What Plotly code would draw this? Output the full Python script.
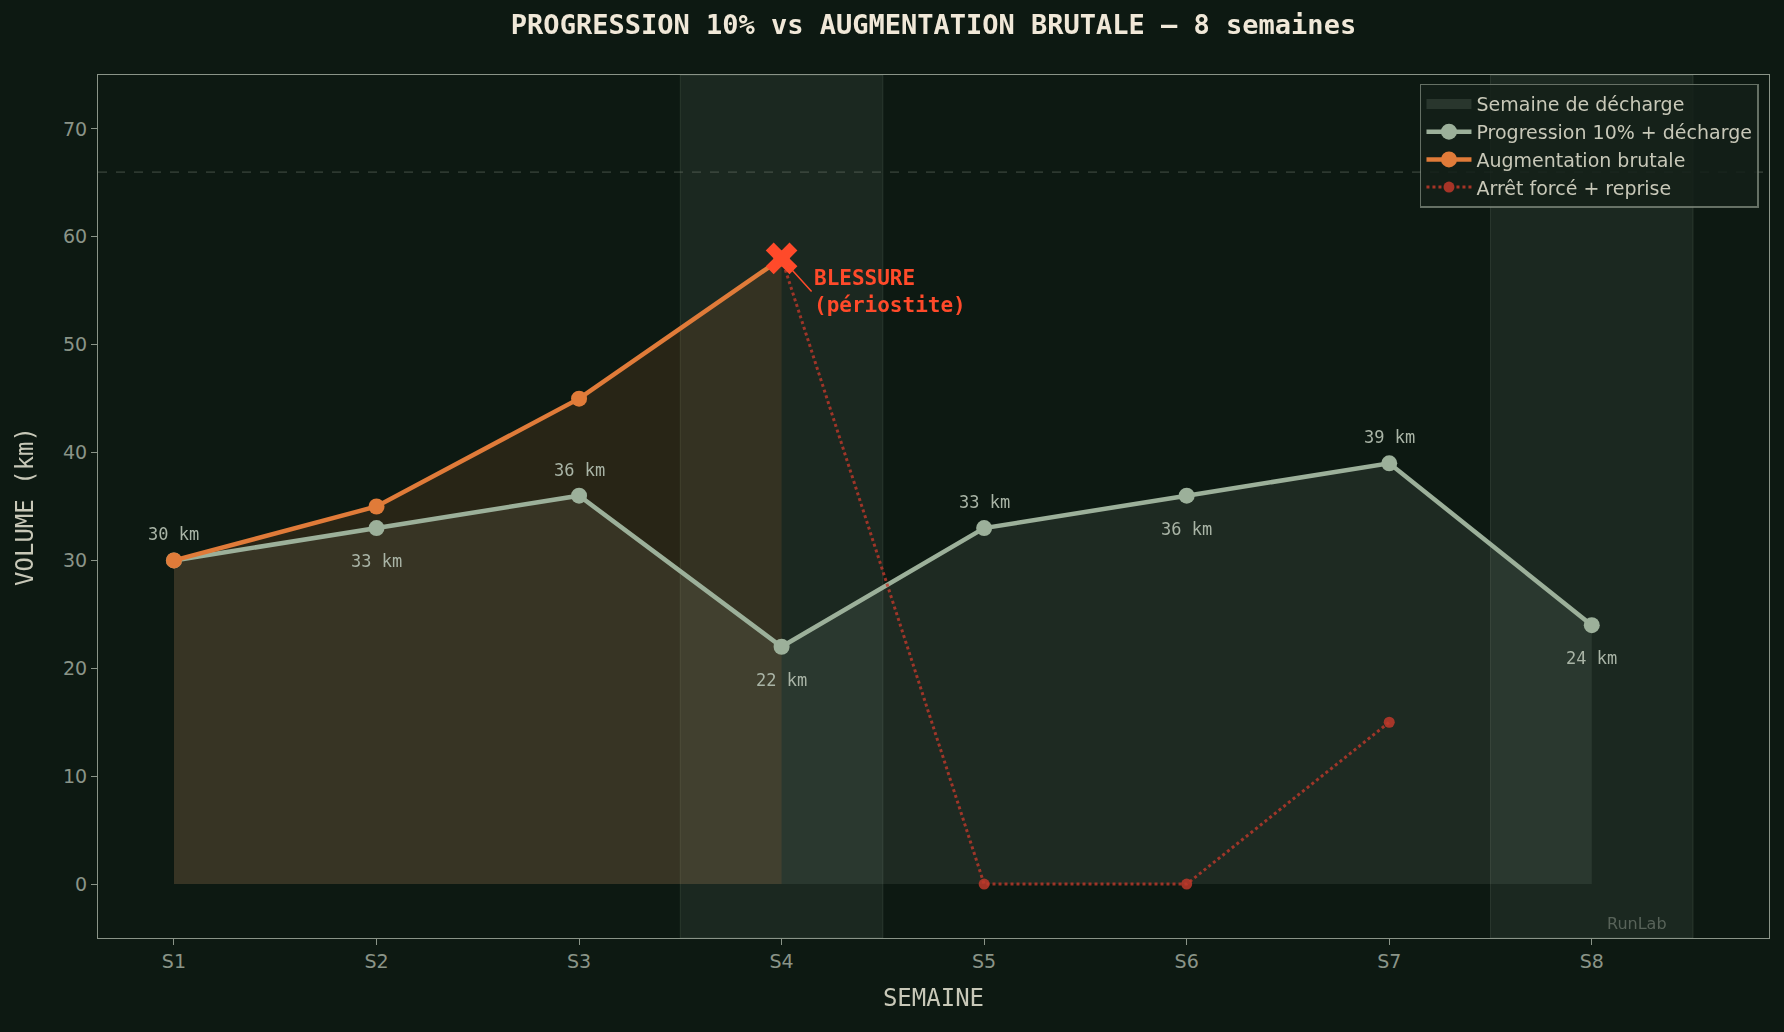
import plotly.graph_objects as go

weeks = ["S1", "S2", "S3", "S4", "S5", "S6", "S7", "S8"]
progression = [30, 33, 36, 22, 33, 36, 39, 24]
brutal_weeks = ["S1", "S2", "S3", "S4"]
brutal = [30, 35, 45, 58]
arret_weeks = ["S4", "S5", "S6", "S7"]
arret = [58, 0, 0, 15]
arret_marker_weeks = ["S5", "S6", "S7"]
arret_marker = [0, 0, 15]
decharge_weeks = ["S4", "S8"]
limit_line = 66
injury_week = "S4"
injury_value = 58
y_ticks = [0, 10, 20, 30, 40, 50, 60, 70]

BG = "#0d1912"
GREEN = "#9cb09a"
ORANGE = "#e07b39"
RED = "#ff4a2a"
DOT = "#c0392b"
GREY = "#8a9488"
MONO = "DejaVu Sans Mono"
SANS = "DejaVu Sans"

idx = {w: i for i, w in enumerate(weeks)}
xp = [idx[w] for w in weeks]
xb = [idx[w] for w in brutal_weeks]

fig = go.Figure()

# fills first (below all lines)
fig.add_trace(go.Scatter(x=xp, y=progression, mode="none", showlegend=False,
                         fill="tozeroy", fillcolor="rgba(156,176,154,0.12)", hoverinfo="skip"))
fig.add_trace(go.Scatter(x=xb, y=brutal, mode="none", showlegend=False,
                         fill="tozeroy", fillcolor="rgba(224,123,57,0.13)", hoverinfo="skip"))

# legend proxy for decharge span
fig.add_trace(go.Scatter(
    x=[None], y=[None], mode="lines", name="Semaine de décharge",
    line=dict(color="rgba(160,180,160,0.16)", width=14),
    hoverinfo="skip"))

fig.add_trace(go.Scatter(
    x=xp, y=progression, mode="lines+markers",
    name="Progression 10% + décharge",
    line=dict(color=GREEN, width=4.5),
    marker=dict(color=GREEN, size=16)))

fig.add_trace(go.Scatter(
    x=xb, y=brutal, mode="lines+markers",
    name="Augmentation brutale",
    line=dict(color=ORANGE, width=4.5),
    marker=dict(color=ORANGE, size=16)))

fig.add_trace(go.Scatter(
    x=[idx[w] for w in arret_weeks], y=arret, mode="lines", showlegend=False,
    line=dict(color=DOT, width=3, dash="dot"), opacity=0.8, hoverinfo="skip"))

fig.add_trace(go.Scatter(
    x=[idx[w] for w in arret_marker_weeks], y=arret_marker, mode="markers", showlegend=False,
    marker=dict(color=DOT, size=11), opacity=0.85, hoverinfo="skip"))

fig.add_trace(go.Scatter(
    x=[None], y=[None], mode="lines+markers", name="Arrêt forcé + reprise",
    line=dict(color=DOT, width=3, dash="dot"),
    marker=dict(color=DOT, size=11), opacity=0.85))

fig.add_trace(go.Scatter(
    x=[idx[injury_week]], y=[injury_value], mode="markers", showlegend=False,
    marker=dict(symbol="x", size=28, color=RED),
    hoverinfo="skip"))

shapes = []
for w in decharge_weeks:
    shapes.append(dict(type="rect", xref="x", yref="paper",
                       x0=idx[w] - 0.5, x1=idx[w] + 0.5, y0=0, y1=1,
                       fillcolor="rgba(160,180,160,0.10)",
                       line=dict(color="rgba(160,180,160,0.15)", width=1),
                       layer="below"))
shapes.append(dict(type="line", xref="paper", yref="y", x0=0, x1=1,
                   y0=limit_line, y1=limit_line,
                   line=dict(color="rgba(138,148,136,0.45)", width=1, dash="dash")))

annotations = []
for i, (w, v) in enumerate(zip(weeks, progression)):
    above = (i % 2 == 0)
    annotations.append(dict(
        x=idx[w], y=v, text=f"{v} km", showarrow=False,
        yshift=26 if above else -33,
        font=dict(family=MONO, size=17, color="#a9b4a6")))

annotations.append(dict(
    x=idx[injury_week], y=injury_value, xref="x", yref="y",
    text="<b>BLESSURE<br>(périostite)</b>", showarrow=True,
    ax=30, ay=33, xanchor="left", yanchor="middle", align="left",
    arrowhead=2, arrowsize=0.8, arrowwidth=1.5, arrowcolor=RED, standoff=10, startstandoff=0,
    font=dict(family=MONO, size=21, color=RED)))

annotations.append(dict(
    x=0.94, y=0.004, xref="paper", yref="paper", text="RunLab",
    showarrow=False, font=dict(family=SANS, size=16, color="rgba(138,148,136,0.55)")))

fig.update_layout(
    width=1784, height=1032,
    paper_bgcolor=BG, plot_bgcolor=BG,
    margin=dict(l=98, r=15, t=75, b=94),
    title=dict(text="<b>PROGRESSION 10% vs AUGMENTATION BRUTALE — 8 semaines</b>",
               x=0.5, xref="paper", y=1 - 25 / 1032, yref="container",
               xanchor="center", yanchor="middle",
               font=dict(family=MONO, size=27, color="#f0e8d8")),
    shapes=shapes, annotations=annotations,
    showlegend=True,
    legend=dict(x=0.994, y=0.99, xanchor="right", yanchor="top",
                bgcolor="rgba(20,32,25,0.85)", bordercolor="rgba(138,148,136,0.7)",
                borderwidth=1.5, font=dict(family=SANS, size=19, color="#c8c8b8"),
                itemwidth=45),
)

fig.update_xaxes(
    range=[-0.375, 7.875], tickvals=xp, ticktext=weeks,
    showgrid=False, zeroline=False, showline=True, mirror=True,
    linecolor=GREY, linewidth=1.2, ticks="outside", ticklen=6, tickcolor=GREY,
    tickfont=dict(family=SANS, size=19, color=GREY),
    title=dict(text="SEMAINE", standoff=18, font=dict(family=MONO, size=24, color="#c8c8b8")))

fig.update_yaxes(
    range=[-5, 75], tickvals=y_ticks,
    showgrid=False, zeroline=False, showline=True, mirror=True,
    linecolor=GREY, linewidth=1.2, ticks="outside", ticklen=6, tickcolor=GREY,
    tickfont=dict(family=SANS, size=19, color=GREY),
    title=dict(text="VOLUME (km)", standoff=22, font=dict(family=MONO, size=24, color="#c8c8b8")))

fig.write_html("out.html")
